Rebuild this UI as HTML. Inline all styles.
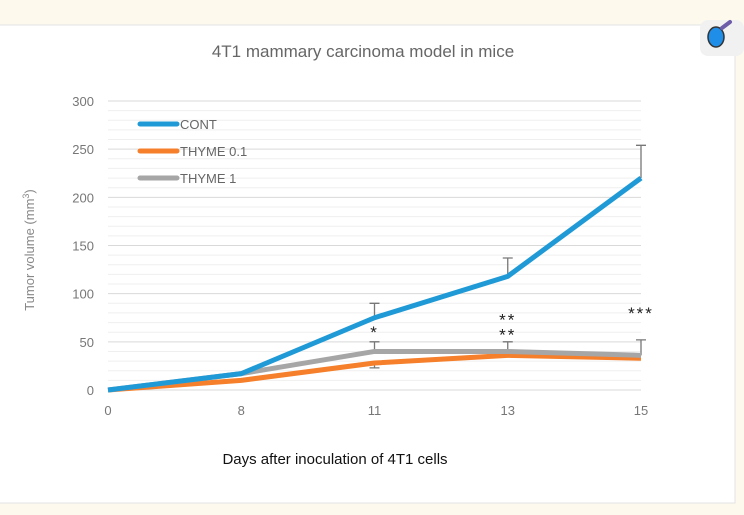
<!DOCTYPE html>
<html><head><meta charset="utf-8"><style>
body{margin:0;background:#fdfaed;width:744px;height:510px;overflow:hidden;font-family:"Liberation Sans",sans-serif}
</style></head><body>
<svg width="744" height="510">
<rect x="0" y="0" width="744" height="510" fill="#fdfaed"/>
<rect x="-2" y="25" width="737" height="478" fill="#fff" stroke="#e3e3e3"/>
<g>
<rect x="700" y="20" width="44" height="36" rx="8" fill="#f1f1f1"/>
<ellipse cx="716" cy="37" rx="8" ry="10" fill="#1e8ee8" stroke="#333" stroke-width="1.5"/>
<line x1="722" y1="28" x2="730" y2="22" stroke="#6b5ba8" stroke-width="4" stroke-linecap="round"/>
</g>
<text x="363" y="57" text-anchor="middle" font-size="17" fill="#666">4T1 mammary carcinoma model in mice</text>
<g id="grid"></g>
<g id="plot"></g>
<text transform="translate(34,250) rotate(-90)" text-anchor="middle" font-size="13" fill="#888">Tumor volume (mm<tspan dy="-5" font-size="9">3</tspan><tspan dy="5">)</tspan></text>
<text x="335" y="464" text-anchor="middle" font-size="15" fill="#111">Days after inoculation of 4T1 cells</text>
</svg>
<script>
const categories=["0","8","11","13","15"];
const cont=[0,17,75,118,220];
const thyme01=[0,10,28,36,33];
const thyme1=[0,17,40,40,36];
const contErr=[0,0,15,19,34];
const thyme1Err=[0,0,10,10,16];
const thyme01Err=[0,0,5,0,0];
const yTicks=[0,50,100,150,200,250,300];
const stars=["","","*","**\n**","***"];
const starY=[0,0,60,73,80];
const NS="http://www.w3.org/2000/svg";
const X0=108,X1=641,Y0=390,Y1=101;
const xs=i=>X0+(X1-X0)*i/(categories.length-1);
const ys=v=>Y0-(Y0-Y1)*v/300;
function mk(t,a,p){const e=document.createElementNS(NS,t);for(const k in a)e.setAttribute(k,a[k]);p.appendChild(e);return e;}
const grid=document.getElementById('grid'),plot=document.getElementById('plot');
for(let v=0;v<=300;v+=10){const major=v%50===0;const l=mk('line',{x1:X0,x2:X1,y1:ys(v),y2:ys(v),stroke:major?'#d9d9d9':'#efefef','stroke-width':1},grid);

}
yTicks.forEach(v=>{const t=mk('text',{x:94,y:ys(v)+5,'text-anchor':'end','font-size':13,fill:'#777'},grid);t.textContent=v;

});
categories.forEach((c,i)=>{const t=mk('text',{x:xs(i),y:415,'text-anchor':'middle','font-size':13,fill:'#777'},grid);t.textContent=c;

});
function err(vals,errs,name){vals.forEach((v,i)=>{if(!errs[i])return;const x=xs(i),y=ys(v+errs[i]);
const p=mk('path',{d:`M${x} ${ys(v)}V${y}M${x-5} ${y}H${x+5}`,stroke:'#777','stroke-width':1.3,fill:'none'},plot);

});}
function line(vals,col,name){const d=vals.map((v,i)=>(i?'L':'M')+xs(i)+' '+ys(v)).join('');
const p=mk('path',{d:d,stroke:col,'stroke-width':5,fill:'none','stroke-linejoin':'round'},plot);

}
err(cont,contErr,'cont-error-bar');err(thyme1,thyme1Err,'thyme1-error-bar');
thyme01.forEach((v,i)=>{if(!thyme01Err[i])return;const x=xs(i),y=ys(v-thyme01Err[i]);const p=mk('path',{d:`M${x} ${ys(v)}V${y}M${x-5} ${y}H${x+5}`,stroke:'#777','stroke-width':1.3},plot);

});
line(thyme01,'#f57f2a','series-thyme-0-1');
line(thyme1,'#a6a6a6','series-thyme-1');
line(cont,'#1f9ad6','series-cont');
stars.forEach((s,i)=>{if(!s)return;s.split('\n').forEach((r,j)=>{const t=mk('text',{x:xs(i),y:ys(starY[i])+6+j*15,'text-anchor':'middle','font-size':17,fill:'#222','letter-spacing':2},plot);t.textContent=r;

});});
const leg=[["CONT",'#1f9ad6'],["THYME 0.1",'#f57f2a'],["THYME 1",'#a6a6a6']];
leg.forEach((l,i)=>{const y=124+i*27;const g=mk('g',{},plot);


mk('line',{x1:140,x2:177,y1:y,y2:y,stroke:l[1],'stroke-width':5,'stroke-linecap':'round'},g);
const t=mk('text',{x:180,y:y+5,'font-size':13,fill:'#666'},g);t.textContent=l[0];});
</script>
</body></html>
